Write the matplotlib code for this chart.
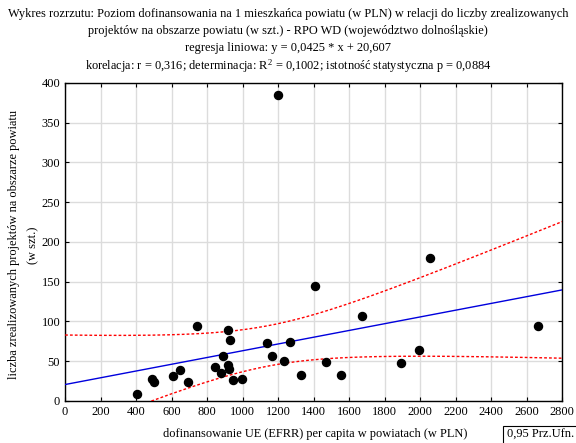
import numpy as np
import matplotlib
matplotlib.use("Agg")
import matplotlib.pyplot as plt

plt.rcParams['font.family'] = ['Liberation Serif', 'DejaVu Serif']

# data
funding_per_capita = [403, 491, 501, 606, 647, 694, 742, 844, 881, 890, 920, 920,
                      926, 928, 948, 997, 1136, 1167, 1201, 1231, 1267, 1329, 1409,
                      1469, 1553, 1670, 1890, 1995, 2053, 2664]
projects = [8.4, 27.7, 23.5, 31.9, 38.6, 23.9, 94, 42.8, 34.8, 56.7, 89.4, 45,
            39.9, 76, 26.9, 27.7, 72.6, 56.7, 384.5, 50, 74.7, 32.7, 144,
            49.5, 32.7, 106.7, 47.4, 64.2, 180, 94.5]
slope = 0.0425
intercept = 20.607
t_crit = 2.048

title_lines = [
    "Wykres rozrzutu: Poziom dofinansowania na 1 mieszkańca powiatu (w PLN) w relacji do liczby zrealizowanych",
    "projektów na obszarze powiatu (w szt.) - RPO WD (województwo dolnośląskie)",
    "regresja liniowa: y = 0,0425 * x + 20,607",
    "korelacja: r = 0,316; determinacja: R$^2$ = 0,1002; istotność statystyczna p = 0,0884",
]
x_label = "dofinansowanie UE (EFRR) per capita w powiatach (w PLN)"
y_label = "liczba zrealizowanych projektów na obszarze powiatu\n(w szt.)"
legend_text = "0,95 Prz.Ufn."
x_ticks = list(range(0, 2801, 200))
y_ticks = list(range(0, 401, 50))

plt.rcParams['mathtext.fontset'] = 'custom'
plt.rcParams['mathtext.rm'] = 'Liberation Serif'
plt.rcParams['mathtext.it'] = 'Liberation Serif:italic'

FS = 8.9

x = np.array(funding_per_capita, dtype=float)
y = np.array(projects, dtype=float)
n = len(x)
resid = y - (slope * x + intercept)
s = np.sqrt(np.sum(resid ** 2) / (n - 2))
xbar = x.mean()
sxx = np.sum((x - xbar) ** 2)
xg = np.linspace(0, 2800, 300)
yg = slope * xg + intercept
half = t_crit * s * np.sqrt(1.0 / n + (xg - xbar) ** 2 / sxx)

fig = plt.figure(figsize=(5.76, 4.43), dpi=100)
ax = fig.add_axes([0.113, 0.095, 0.863, 0.718])

ax.plot(xg, yg, color='#0000dd', lw=1.0, zorder=3)
ax.plot(xg, yg + half, color='red', lw=1.0, ls=(0, (2, 1.5)), zorder=3)
ax.plot(xg, yg - half, color='red', lw=1.0, ls=(0, (2, 1.5)), zorder=3)
ax.plot(x, y, 'o', color='black', ms=5.8, zorder=4)

ax.set_xlim(0, 2800)
ax.set_ylim(0, 400)
ax.set_xticks(x_ticks)
ax.set_yticks(y_ticks)
ax.grid(True, color='#dcdcdc', lw=1.0)
ax.set_axisbelow(True)
ax.tick_params(direction='in', top=True, right=True, length=3, labelsize=FS, color='black')
for sp in ax.spines.values():
    sp.set_linewidth(1.0)

fig.text(0.547, 0.006, x_label, ha='center', va='bottom', fontsize=FS)
fig.text(0.041, 0.447, y_label, ha='center', va='center', rotation=90, fontsize=FS,
         multialignment='center', linespacing=1.75)

ys = [0.968, 0.93, 0.892, 0.85]
for t, yy in zip(title_lines, ys):
    fig.text(0.5, yy, t, ha='center', va='center', fontsize=FS)

fig.text(0.880, 0.004, legend_text, ha='left', va='bottom', fontsize=FS,
         bbox=dict(boxstyle='square,pad=0.28', fc='white', ec='black', lw=0.8))

fig.savefig('out.png', dpi=100)
